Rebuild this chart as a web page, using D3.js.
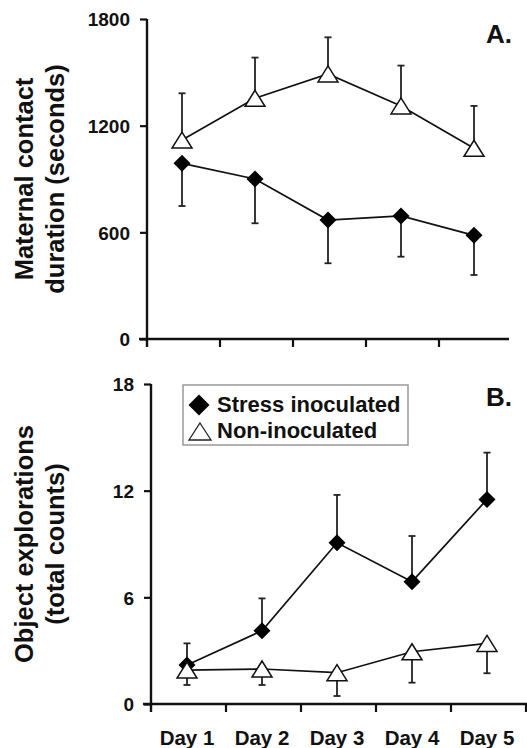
<!DOCTYPE html>
<html>
<head>
<meta charset="utf-8">
<script src="https://cdn.jsdelivr.net/npm/d3@7"></script>
<style>
  html, body { margin: 0; padding: 0; background: #fff; }
  svg { display: block; font-family: "Liberation Sans", Arial, sans-serif; }
</style>
</head>
<body>
<svg id="chart" width="527" height="748"></svg>
<script>
// ---- data ----
const days = ["Day 1", "Day 2", "Day 3", "Day 4", "Day 5"];

// Panel A: maternal contact duration (seconds)
const maternalStress = [988, 900, 669, 692, 583];
const maternalStressErr = [240, 249, 243, 229, 223];
const maternalNon = [1119, 1354, 1491, 1311, 1073];
const maternalNonErr = [263, 229, 206, 227, 238];
const maternalTicks = [0, 600, 1200, 1800];

// Panel B: object explorations (total counts)
const exploreStress = [2.19, 4.12, 9.07, 6.88, 11.51];
const exploreStressErr = [1.22, 1.82, 2.69, 2.57, 2.63];
const exploreNon = [1.91, 1.97, 1.76, 2.94, 3.41];
const exploreNonErr = [0.84, 0.90, 1.31, 1.74, 1.68];
const exploreTicks = [0, 6, 12, 18];

const seriesNames = ["Stress inoculated", "Non-inoculated"];

// ---- drawing ----
const svg = d3.select("#chart");

function diamondPath(r) { return `M0,${-r}L${r},0L0,${r}L${-r},0Z`; }
function trianglePath(w, h) { return `M0,${-h/2}L${w/2},${h/2}L${-w/2},${h/2}Z`; }

function panel(opts) {
  const g = svg.append("g");
  const x = d3.scaleBand().domain(days).range([opts.x0, opts.x1]);
  const y = d3.scaleLinear().domain([0, opts.ymax]).range([opts.yBottom, opts.yTop]);
  const cx = d => x(d) + x.bandwidth() / 2 - 1.5;

  // y axis
  const yAxis = d3.axisLeft(y).tickValues(opts.ticks).tickFormat(d3.format("d"))
    .tickSize(7).tickPadding(10).tickSizeOuter(0);
  const ya = g.append("g").attr("transform", `translate(${opts.x0},0)`).call(yAxis);
  ya.select(".domain").attr("stroke", "#111").attr("stroke-width", 2.4)
    .attr("d", `M0,${opts.yTop}V${opts.yBottom + 8}`);
  ya.selectAll(".tick line").attr("stroke", "#111").attr("stroke-width", 2.2);
  ya.selectAll(".tick text").attr("font-size", 19).attr("font-weight", "bold").attr("fill", "#111")
    .attr("dy", "0.36em");

  // x axis
  const xAxis = d3.axisBottom(x).tickSize(0).tickSizeOuter(0).tickPadding(0);
  const xa = g.append("g").attr("transform", `translate(0,${opts.yBottom})`).call(xAxis);
  xa.select(".domain").attr("stroke", "#111").attr("stroke-width", 2.4)
    .attr("d", `M${opts.x0 - 8},0H${opts.xEnd}`);
  xa.selectAll(".tick").remove();
  // boundary ticks
  const bounds = days.map(d => x(d)).slice(1).concat(opts.lastTick ? [opts.x1] : []);
  xa.selectAll("line.bt").data(bounds).join("line").attr("class", "bt")
    .attr("x1", d => d).attr("x2", d => d).attr("y1", 0).attr("y2", 8)
    .attr("stroke", "#111").attr("stroke-width", 2.2);
  if (opts.showLabels) {
    g.selectAll("text.day").data(days).join("text").attr("class", "day")
      .attr("x", d => cx(d)).attr("y", opts.yBottom + 41)
      .attr("text-anchor", "middle").attr("font-size", 20.5).attr("font-weight", "bold").attr("fill", "#111")
      .text(d => d);
  }

  // error bars
  function errBars(vals, errs, dir) {
    const data = days.map((d, i) => ({ d, v: vals[i], e: errs[i] }));
    const eg = g.append("g").attr("stroke", "#222").attr("stroke-width", 1.8);
    eg.selectAll("line.v").data(data).join("line")
      .attr("x1", p => cx(p.d)).attr("x2", p => cx(p.d))
      .attr("y1", p => y(p.v)).attr("y2", p => y(p.v + dir * p.e));
    eg.selectAll("line.c").data(data).join("line")
      .attr("x1", p => cx(p.d) - 3.5).attr("x2", p => cx(p.d) + 3.5)
      .attr("y1", p => y(p.v + dir * p.e)).attr("y2", p => y(p.v + dir * p.e));
  }
  errBars(opts.stress, opts.stressErr, opts.stressDir);
  errBars(opts.non, opts.nonErr, opts.nonDir);

  const line = d3.line().x((v, i) => cx(days[i])).y(v => y(v));
  g.append("path").datum(opts.stress).attr("d", line).attr("fill", "none").attr("stroke", "#111").attr("stroke-width", 1.7);
  g.append("path").datum(opts.non).attr("d", line).attr("fill", "none").attr("stroke", "#111").attr("stroke-width", 1.7);

  g.selectAll("path.dia").data(opts.stress).join("path").attr("class", "dia")
    .attr("transform", (v, i) => `translate(${cx(days[i])},${y(v)})`)
    .attr("d", diamondPath(8.5)).attr("fill", "#000");
  g.selectAll("path.tri").data(opts.non).join("path").attr("class", "tri")
    .attr("transform", (v, i) => `translate(${cx(days[i])},${y(v)})`)
    .attr("d", trianglePath(20, 16)).attr("fill", "#fff").attr("stroke", "#111").attr("stroke-width", 1.5);

  // panel letter
  g.append("text").attr("x", 512).attr("y", opts.letterY).attr("text-anchor", "end")
    .attr("font-size", 26).attr("font-weight", "bold").attr("fill", "#111").text(opts.letter);

  // y title
  const yc = (opts.yTop + opts.yBottom) / 2;
  opts.title.forEach((t, i) => {
    const bx = i === 0 ? 33 : 64;
    g.append("text").attr("transform", `translate(${bx},${yc}) rotate(-90)`)
      .attr("text-anchor", "middle").attr("font-size", 25.5).attr("font-weight", "bold").attr("fill", "#111")
      .text(t);
  });
  return { x, y };
}

panel({
  x0: 147, x1: 512, xEnd: 509, lastTick: false, yTop: 19, yBottom: 339, ymax: 1800, ticks: maternalTicks,
  stress: maternalStress, stressErr: maternalStressErr, stressDir: -1,
  non: maternalNon, nonErr: maternalNonErr, nonDir: 1,
  letter: "A.", letterY: 43, title: ["Maternal contact", "duration (seconds)"], showLabels: false
});

panel({
  x0: 151, x1: 526, xEnd: 527, lastTick: true, yTop: 384, yBottom: 704, ymax: 18, ticks: exploreTicks,
  stress: exploreStress, stressErr: exploreStressErr, stressDir: 1,
  non: exploreNon, nonErr: exploreNonErr, nonDir: -1,
  letter: "B.", letterY: 406, title: ["Object explorations", "(total counts)"], showLabels: true
});

// legend
const lg = svg.append("g");
lg.append("rect").attr("x", 183).attr("y", 385).attr("width", 225).attr("height", 60)
  .attr("fill", "#fff").attr("stroke", "#999").attr("stroke-width", 1.5);
lg.append("path").attr("transform", "translate(199,405)").attr("d", diamondPath(10.5)).attr("fill", "#000");
lg.append("path").attr("transform", "translate(200,431.5)").attr("d", trianglePath(22, 17))
  .attr("fill", "#fff").attr("stroke", "#222").attr("stroke-width", 1.3);
lg.selectAll("text").data(seriesNames).join("text")
  .attr("x", 217).attr("y", (d, i) => 412 + i * 26)
  .attr("font-size", 22).attr("font-weight", "bold").attr("fill", "#111").text(d => d);
</script>
</body>
</html>
